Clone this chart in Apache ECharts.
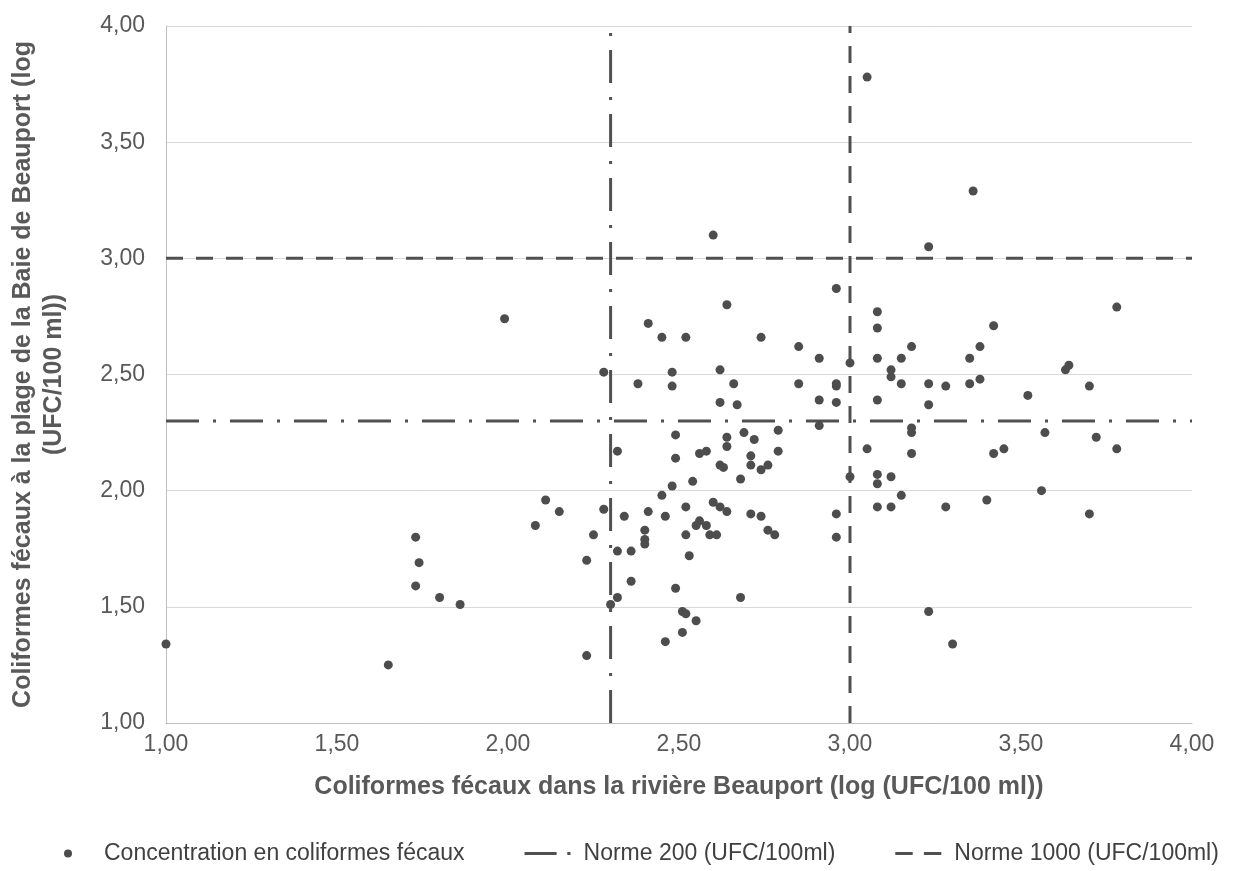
<!DOCTYPE html>
<html>
<head>
<meta charset="utf-8">
<script src="https://cdn.jsdelivr.net/npm/echarts@6/dist/echarts.min.js"></script>
<style>
  html, body { margin: 0; padding: 0; background: #fff; }
  #chart { width: 1243px; height: 871px; }
</style>
</head>
<body>
<div id="chart"></div>
<script>
// log10 des coliformes fécaux : rivière (x) et plage (y)
var riviere = [1.00, 1.65, 1.73, 1.74, 1.73, 1.80, 1.86, 1.99, 2.08, 2.11,
  2.15, 2.23, 2.23, 2.25, 2.28, 2.28, 2.30, 2.32, 2.32, 2.32,
  2.34, 2.36, 2.36, 2.38, 2.40, 2.40, 2.40, 2.41, 2.41, 2.45,
  2.45, 2.46, 2.46, 2.48, 2.48, 2.48, 2.49, 2.49, 2.49, 2.51,
  2.51, 2.52, 2.52, 2.52, 2.52, 2.53, 2.54, 2.55, 2.55, 2.56,
  2.56, 2.58, 2.58, 2.60, 2.60, 2.59, 2.61, 2.62, 2.62, 2.62,
  2.62, 2.63, 2.64, 2.64, 2.64, 2.64, 2.66, 2.67, 2.68, 2.68,
  2.69, 2.71, 2.71, 2.71, 2.72, 2.74, 2.74, 2.74, 2.76, 2.76,
  2.78, 2.79, 2.79, 2.85, 2.85, 2.91, 2.91, 2.91, 2.96, 2.96,
  2.96, 2.96, 2.96, 2.96, 3.00, 3.00, 3.05, 3.05, 3.08, 3.08,
  3.08, 3.08, 3.08, 3.08, 3.08, 3.12, 3.12, 3.12, 3.12, 3.15,
  3.15, 3.15, 3.18, 3.18, 3.18, 3.18, 3.23, 3.23, 3.23, 3.23,
  3.28, 3.28, 3.30, 3.35, 3.35, 3.36, 3.38, 3.38, 3.40, 3.42,
  3.42, 3.45, 3.52, 3.56, 3.57, 3.63, 3.64, 3.70, 3.70, 3.72,
  3.78, 3.78];
var plage = [1.34, 1.25, 1.80, 1.69, 1.59, 1.54, 1.51, 2.74, 1.85, 1.96,
  1.91, 1.70, 1.29, 1.81, 1.92, 2.51, 1.51, 1.74, 1.54, 2.17,
  1.89, 1.74, 1.61, 2.46, 1.83, 1.79, 1.77, 1.91, 2.72, 2.66,
  1.98, 1.89, 1.35, 2.51, 2.45, 2.02, 2.24, 2.14, 1.58, 1.48,
  1.39, 1.47, 2.66, 1.93, 1.81, 1.72, 2.04, 1.85, 1.44, 2.16,
  1.87, 2.17, 1.85, 3.10, 1.95, 1.81, 1.81, 1.93, 2.52, 2.38,
  2.11, 2.10, 1.91, 2.19, 2.23, 2.80, 2.46, 2.37, 2.05, 1.54,
  2.25, 2.15, 2.11, 1.90, 2.22, 2.66, 2.09, 1.89, 2.11, 1.83,
  1.81, 2.26, 2.17, 2.62, 2.46, 2.57, 2.39, 2.28, 2.87, 2.46,
  2.45, 2.38, 1.90, 1.80, 2.55, 2.06, 3.78, 2.18, 2.77, 2.70,
  2.57, 2.39, 2.07, 2.03, 1.93, 1.93, 2.06, 2.52, 2.49, 2.57,
  2.46, 1.98, 2.62, 2.27, 2.25, 2.16, 3.05, 2.46, 2.37, 1.48,
  2.45, 1.93, 1.34, 2.57, 2.46, 3.29, 2.62, 2.48, 1.96, 2.71,
  2.16, 2.18, 2.41, 2.00, 2.25, 2.52, 2.54, 2.45, 1.90, 2.23,
  2.79, 2.18];

var axisBornes = [1, 4];
var norme200 = 2.30;   // log10(200)
var norme1000 = 3.00;  // log10(1000)
var nomsSeries = ['Concentration en coliformes fécaux', 'Norme 200 (UFC/100ml)', 'Norme 1000 (UFC/100ml)'];

var points = [];
for (var i = 0; i < riviere.length; i++) {
    points.push([riviere[i], plage[i]]);
}

function fmt(v) {
    return v.toFixed(2).replace('.', ',');
}

var dom = document.getElementById('chart');
var myChart = echarts.init(dom, null, { renderer: 'canvas' });

var grisLigne = '#505050';
var pointille200 = [33, 14, 3, 14];
var pointille1000 = [17, 13];
// icônes de légende dessinées à la main (tiret-point / tirets)
var icone200 = 'path://M0,0H30V3H0Z M40,0H43V3H40Z';
var icone1000 = 'path://M0,0H17V3H0Z M28,0H45V3H28Z';

function ligne(nom, motif, data) {
    return {
        name: nom,
        type: 'line',
        symbol: 'none',
        silent: true,
        z: 2,
        lineStyle: { color: grisLigne, width: 3, type: motif },
        itemStyle: { color: grisLigne },
        data: data
    };
}

var option = {
    animation: false,
    textStyle: { fontFamily: 'Liberation Sans, Arial, sans-serif' },
    grid: {
        left: 163,
        right: 51,
        top: 26,
        bottom: 148
    },
    legend: {
        data: [
            { name: nomsSeries[0], icon: 'circle' },
            { name: nomsSeries[1], icon: icone200 },
            { name: nomsSeries[2], icon: icone1000 }
        ],
        orient: 'horizontal',
        bottom: 6,
        left: 64,
        width: 1179,
        padding: 0,
        itemWidth: 46,
        itemHeight: 8,
        itemGap: 60,
        textStyle: {
            fontSize: 23,
            color: '#404040',
            padding: [0, 0, 0, 8],
            fontFamily: 'Liberation Sans, Arial, sans-serif'
        }
    },
    xAxis: {
        type: 'value',
        min: axisBornes[0],
        max: axisBornes[1],
        interval: 0.5,
        name: 'Coliformes fécaux dans la rivière Beauport (log (UFC/100 ml))',
        nameLocation: 'middle',
        nameGap: 52,
        nameTextStyle: { fontSize: 25, fontWeight: 'bold', color: '#595959' },
        axisLine: { lineStyle: { color: '#bfbfbf', width: 1 } },
        axisTick: { show: false },
        splitLine: { show: false },
        axisLabel: { formatter: fmt, fontSize: 23, color: '#595959', margin: 10 }
    },
    yAxis: {
        type: 'value',
        min: axisBornes[0],
        max: axisBornes[1],
        interval: 0.5,
        name: 'Coliformes fécaux à la plage de la Baie de Beauport (log\n(UFC/100 ml))',
        nameLocation: 'middle',
        nameGap: 96,
        nameTextStyle: { fontSize: 25, fontWeight: 'bold', color: '#595959', lineHeight: 31 },
        axisLine: { show: true, lineStyle: { color: '#bfbfbf', width: 1 } },
        axisTick: { show: false },
        splitLine: { lineStyle: { color: '#d9d9d9', width: 1 } },
        axisLabel: { formatter: fmt, fontSize: 23, color: '#595959', margin: 21 }
    },
    series: [
        ligne(nomsSeries[1], pointille200, [[axisBornes[0], norme200], [axisBornes[1], norme200]]),
        ligne(nomsSeries[1], pointille200, [[norme200, axisBornes[0]], [norme200, axisBornes[1]]]),
        ligne(nomsSeries[2], pointille1000, [[axisBornes[0], norme1000], [axisBornes[1], norme1000]]),
        ligne(nomsSeries[2], pointille1000, [[norme1000, axisBornes[0]], [norme1000, axisBornes[1]]]),
        {
            name: nomsSeries[0],
            type: 'scatter',
            symbol: 'circle',
            symbolSize: 9,
            z: 3,
            itemStyle: { color: '#4d4d4d', opacity: 1 },
            data: points
        }
    ]
};

if (option && typeof option === "object") {
    myChart.setOption(option, true);
}
</script>
</body>
</html>
